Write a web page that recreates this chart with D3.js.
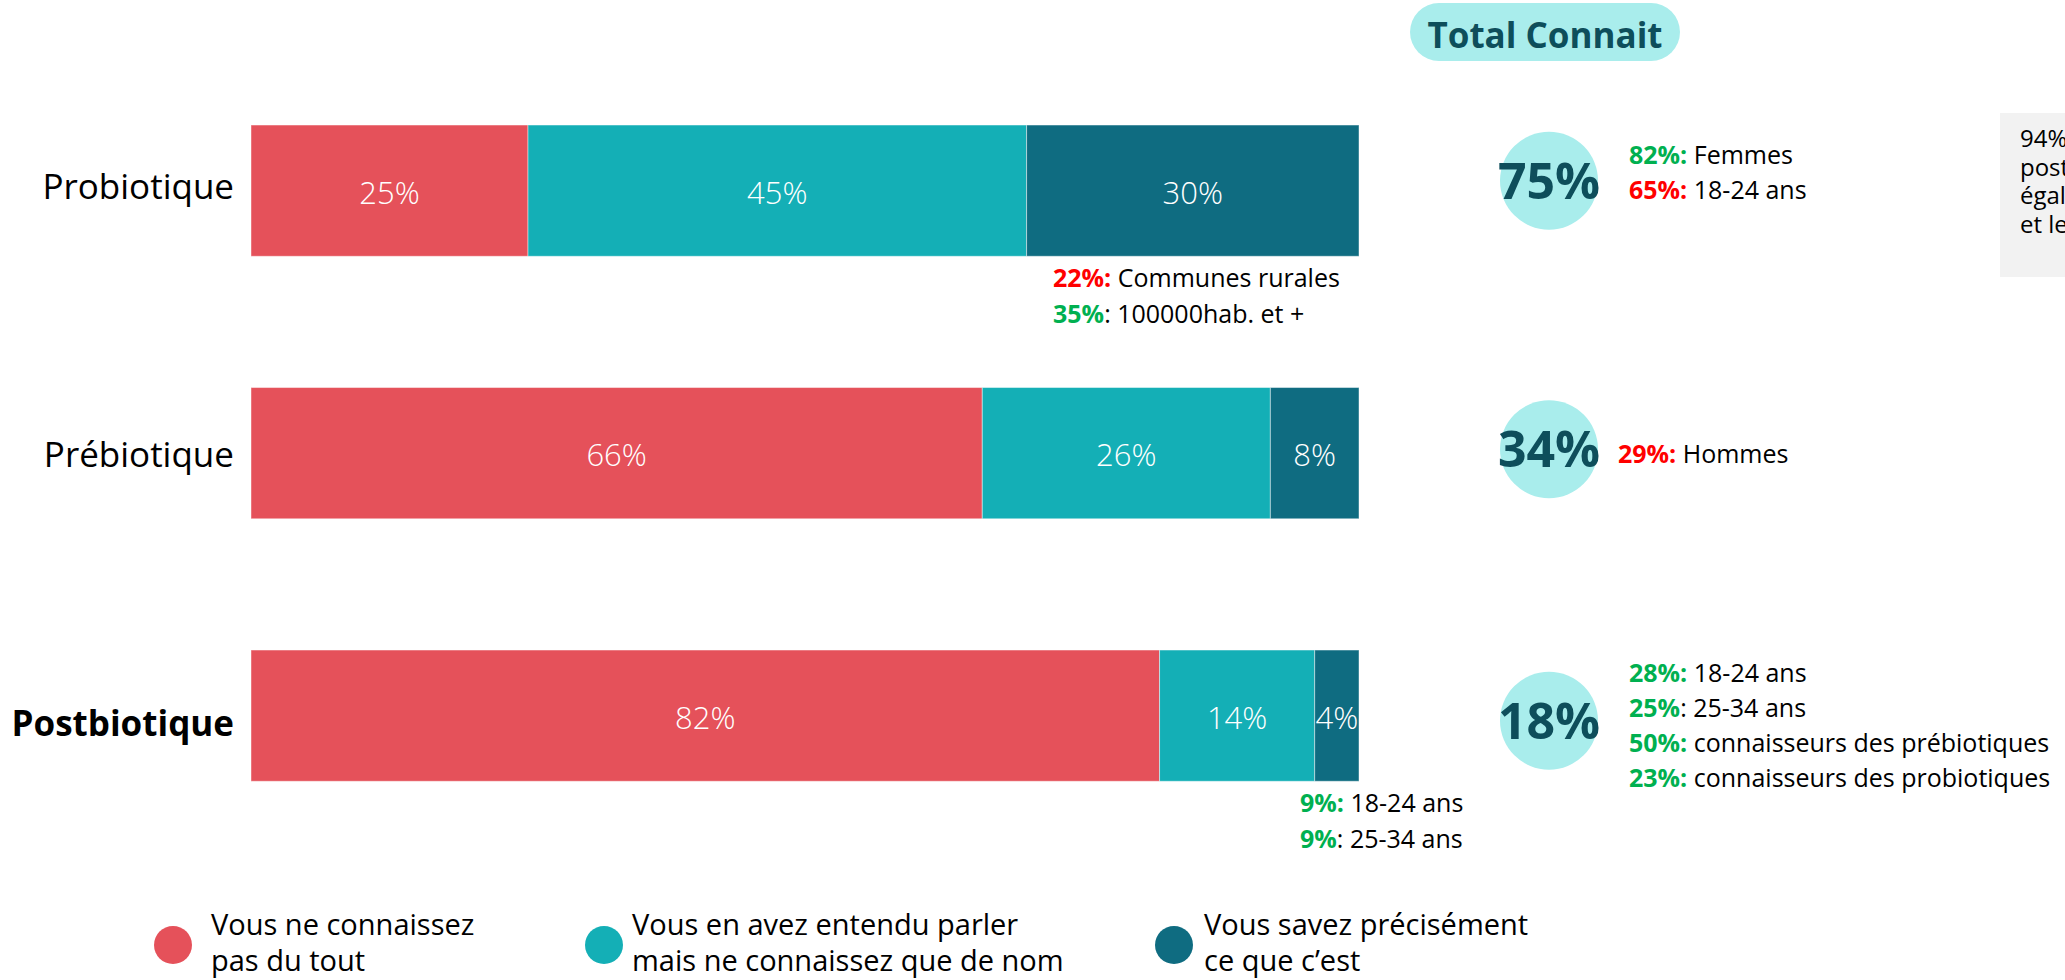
<!DOCTYPE html>
<html>
<head>
<meta charset="utf-8">
<script src="https://cdn.jsdelivr.net/npm/d3@7"></script>
<style>
  body { margin: 0; background: #fff; }
  svg { display: block; font-family: 'Open Sans', 'Noto Sans', sans-serif; }
</style>
</head>
<body>
<svg id="chart" width="2065" height="980"></svg>
<script>
// Data
const categories = ['Probiotique', 'Prébiotique', 'Postbiotique'];
const seriesNames = ['Vous ne connaissez|pas du tout', 'Vous en avez entendu parler|mais ne connaissez que de nom', 'Vous savez précisément|ce que c\u2019est'];
const pasDuTout = [25, 66, 82];
const entenduParler = [45, 26, 14];
const savezPrecisement = [30, 8, 4];
const totalConnait = [75, 34, 18];

// notes: [value, text, colour key]
const sideNotes = [
  [['82%:', ' Femmes', 'up'], ['65%:', ' 18-24 ans', 'down']],
  [['29%:', ' Hommes', 'down']],
  [['28%:', ' 18-24 ans', 'up'], ['25%', ': 25-34 ans', 'up'], ['50%:', ' connaisseurs des prébiotiques', 'up'], ['23%:', ' connaisseurs des probiotiques', 'up']]
];
const belowNotes = [
  [['22%:', ' Communes rurales', 'down'], ['35%', ': 100000hab. et +', 'up']],
  [],
  [['9%:', ' 18-24 ans', 'up'], ['9%', ': 25-34 ans', 'up']]
];
const boxLines = ['94% des connaisseurs des', 'postbiotiques connaissent', 'également les prébiotiques', 'et les probiotiques'];

const colors = ['#E5515A', '#14AFB6', '#0F6C81'];
const noteColor = { up: '#00B050', down: '#FF0000' };
const darkText = '#0E4E5B';
const bubble = '#A9EDEC';

const svg = d3.select('#chart');

// scales
const x = d3.scaleLinear().domain([0, 100]).range([251, 1359]);
const y = d3.scaleBand().domain(categories).range([59.4, 846.9]).paddingInner(0.5).paddingOuter(0.25);

const stackData = categories.map((c, i) => ({
  cat: c,
  s0: pasDuTout[i], s1: entenduParler[i], s2: savezPrecisement[i]
}));
const stack = d3.stack().keys(['s0', 's1', 's2'])(stackData);

// bars
const layers = svg.selectAll('.layer')
  .data(stack)
  .enter().append('g')
  .attr('class', 'layer')
  .attr('fill', (d, i) => colors[i]);

layers.selectAll('rect')
  .data(d => d)
  .enter().append('rect')
  .attr('x', d => x(d[0]))
  .attr('y', d => y(d.data.cat))
  .attr('width', d => x(d[1]) - x(d[0]))
  .attr('height', y.bandwidth())
  .attr('stroke', 'rgba(255,255,255,0.45)')
  .attr('stroke-width', 1);

layers.selectAll('text')
  .data(d => d)
  .enter().append('text')
  .attr('x', d => (x(d[0]) + x(d[1])) / 2)
  .attr('y', d => y(d.data.cat) + y.bandwidth() / 2)
  .attr('dy', '0.42em')
  .attr('text-anchor', 'middle')
  .attr('fill', '#fff')
  .attr('font-size', 31)
  .attr('font-weight', 300)
  .text(d => (d[1] - d[0]) + '%');

// category labels
const labelShift = [-4, 1, 8];
svg.selectAll('.cat')
  .data(categories)
  .enter().append('text')
  .attr('class', 'cat')
  .attr('x', 234)
  .attr('y', (d, i) => y(d) + y.bandwidth() / 2 + labelShift[i])
  .attr('dy', '0.36em')
  .attr('text-anchor', 'end')
  .attr('font-size', 35)
  .attr('font-weight', (d, i) => i === 2 ? 700 : 400)
  .attr('fill', '#000')
  .text(d => d);

// Total Connait header
svg.append('rect')
  .attr('x', 1410).attr('y', 3)
  .attr('width', 270).attr('height', 58)
  .attr('rx', 29)
  .attr('fill', bubble);
svg.append('text')
  .attr('x', 1545).attr('y', 48)
  .attr('text-anchor', 'middle')
  .attr('font-size', 35)
  .attr('font-weight', 700)
  .attr('fill', darkText)
  .text('Total Connait');

// total bubbles
const bubbleShift = [-10, -4, 5];
const cy = (d, i) => y(categories[i]) + y.bandwidth() / 2 + bubbleShift[i];

svg.selectAll('.bubble')
  .data(totalConnait)
  .enter().append('circle')
  .attr('cx', 1549)
  .attr('cy', cy)
  .attr('r', 49)
  .attr('fill', bubble);

svg.selectAll('.total')
  .data(totalConnait)
  .enter().append('text')
  .attr('x', 1549)
  .attr('y', cy)
  .attr('dy', '0.36em')
  .attr('text-anchor', 'middle')
  .attr('font-size', 50)
  .attr('font-weight', 700)
  .attr('fill', darkText)
  .text(d => d + '%');

// side notes
const sideX = [1629, 1618, 1629];
const sideFirst = [164, 463, 682];
sideNotes.forEach((notes, i) => {
  notes.forEach((n, j) => {
    const t = svg.append('text')
      .attr('x', sideX[i])
      .attr('y', sideFirst[i] + j * 35)
      .attr('font-size', 25);
    t.append('tspan').attr('font-weight', 700).attr('fill', noteColor[n[2]]).text(n[0]);
    t.append('tspan').attr('fill', '#000').text(n[1]);
  });
});

// notes under bars
const belowX = [x(100) - 306, 0, x(100) - 59];
belowNotes.forEach((notes, i) => {
  notes.forEach((n, j) => {
    const t = svg.append('text')
      .attr('x', belowX[i])
      .attr('y', y(categories[i]) + y.bandwidth() + 31 + j * 36)
      .attr('font-size', 25);
    t.append('tspan').attr('font-weight', 700).attr('fill', noteColor[n[2]]).text(n[0]);
    t.append('tspan').attr('fill', '#000').text(n[1]);
  });
});

// grey side box (cut off at the page edge, as in the source)
svg.append('rect')
  .attr('x', 2000).attr('y', 113)
  .attr('width', 80).attr('height', 164)
  .attr('fill', '#F2F2F2');
svg.selectAll('.boxline')
  .data(boxLines)
  .enter().append('text')
  .attr('class', 'boxline')
  .attr('x', 2020)
  .attr('y', (d, i) => 147 + i * 28.5)
  .attr('font-size', 24)
  .attr('fill', '#000')
  .text(d => d);

// legend
const dotX = [173, 604, 1174];
const labelX = [211, 632, 1204];
const legend = svg.selectAll('.legend')
  .data(seriesNames)
  .enter().append('g')
  .attr('class', 'legend');

legend.append('circle')
  .attr('cx', (d, i) => dotX[i])
  .attr('cy', 945)
  .attr('r', 19)
  .attr('fill', (d, i) => colors[i]);

legend.each(function (d, k) {
  d3.select(this).append('text')
    .attr('font-size', 29)
    .attr('fill', '#000')
    .selectAll('tspan')
    .data(d.split('|'))
    .enter().append('tspan')
    .attr('x', labelX[k])
    .attr('y', (s, i) => 935 + i * 36)
    .text(s => s);
});
</script>
</body>
</html>
